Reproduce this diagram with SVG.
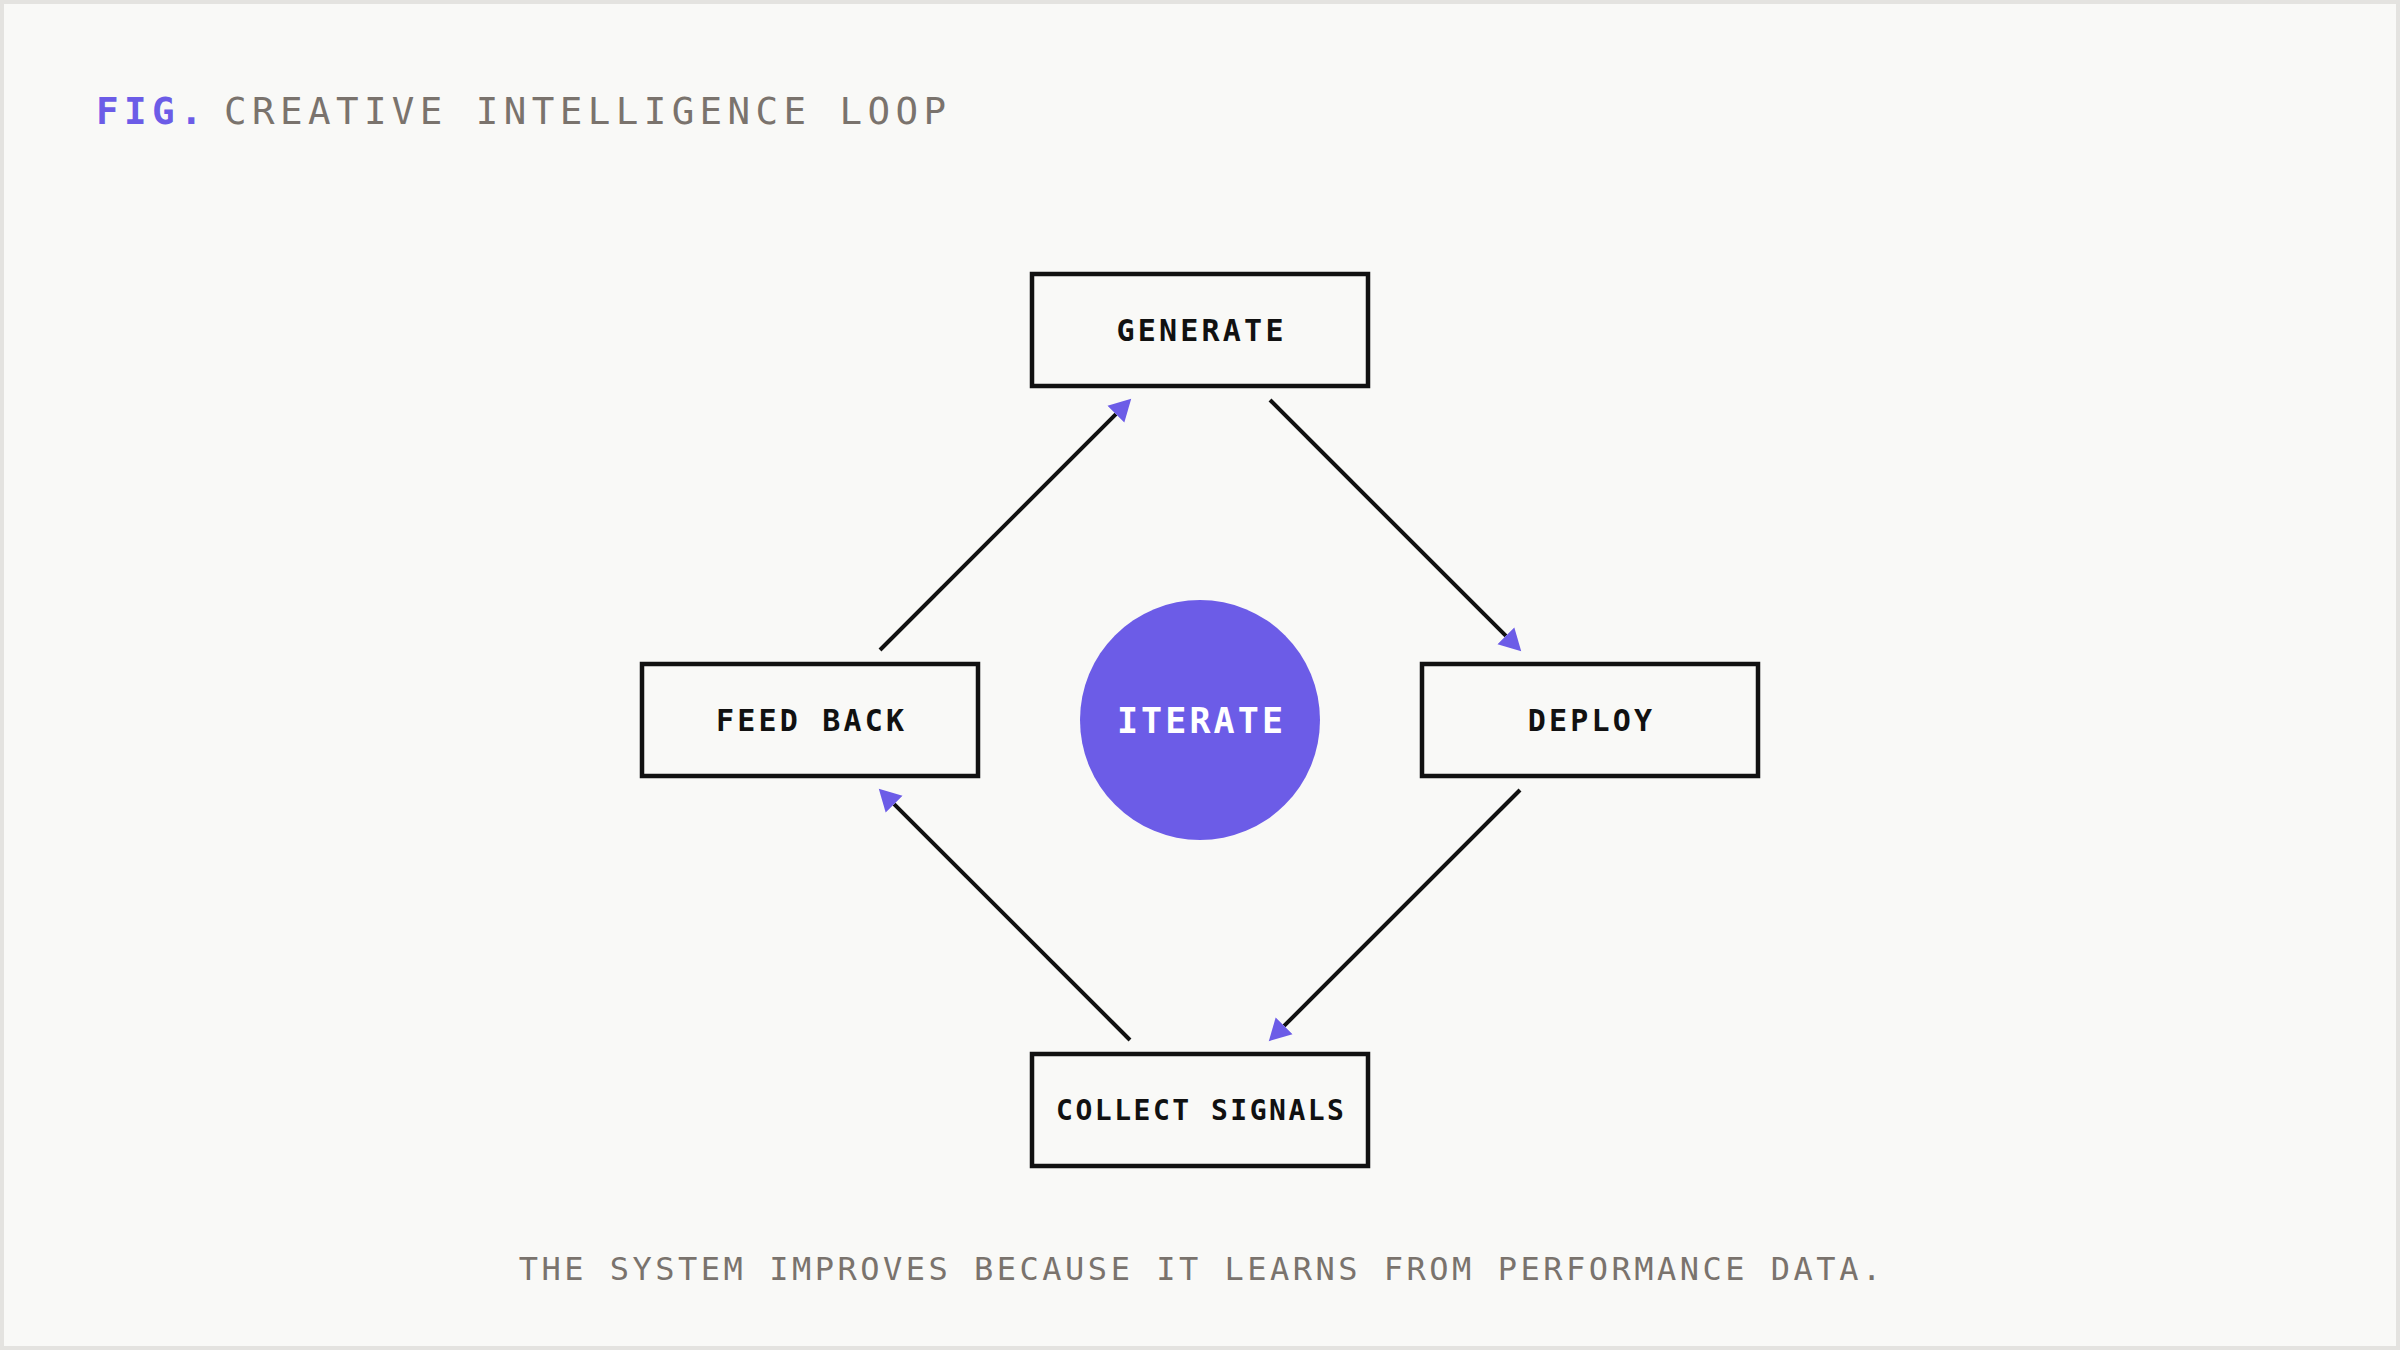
<svg xmlns="http://www.w3.org/2000/svg" width="2400" height="1350" viewBox="0 0 2400 1350">
<style>
.box{fill:none;stroke:#111;stroke-width:4.5}
.lbl{font-family:"DejaVu Sans Mono","Liberation Mono",monospace;font-weight:bold;fill:#111;text-anchor:middle}
.conn{stroke:#111;stroke-width:4;fill:none}
.muted{font-family:"DejaVu Sans Mono","Liberation Mono",monospace;fill:#7a736d}
</style>
<defs>
<marker id="ah" markerUnits="userSpaceOnUse" markerWidth="24" markerHeight="26" viewBox="0 -12 22 24" refX="0" refY="0" orient="auto">
<path d="M0,-11 L20,0 L0,11 Z" fill="#6c5ce7"/>
</marker>
</defs>
<rect x="2" y="2" width="2396" height="1346" fill="#f9f9f7" stroke="#e4e3e0" stroke-width="4"/>
<g id="title">
<text x="96" y="124" class="muted" style="fill:#6c5ce7;font-weight:bold" font-size="37.5" letter-spacing="5.4">FIG.</text>
<text x="224" y="124" class="muted" font-size="37.5" letter-spacing="5.4">CREATIVE INTELLIGENCE LOOP</text>
</g>
<g id="connectors">
<line class="conn" x1="1270" y1="400" x2="1505.9" y2="635.9" marker-end="url(#ah)"/>
<line class="conn" x1="1520" y1="790" x2="1284.1" y2="1025.9" marker-end="url(#ah)"/>
<line class="conn" x1="1130" y1="1040" x2="894.1" y2="804.1" marker-end="url(#ah)"/>
<line class="conn" x1="880" y1="650" x2="1115.9" y2="414.1" marker-end="url(#ah)"/>
</g>
<g id="generate">
<rect class="box" x="1032" y="274" width="336" height="112"/>
<text class="lbl" x="1201.6" y="341" font-size="30" letter-spacing="3.2">GENERATE</text>
</g>
<g id="deploy">
<rect class="box" x="1422" y="664" width="336" height="112"/>
<text class="lbl" x="1591.6" y="731" font-size="30" letter-spacing="3.2">DEPLOY</text>
</g>
<g id="collect-signals">
<rect class="box" x="1032" y="1054" width="336" height="112"/>
<text class="lbl" x="1201.3" y="1120" font-size="28" letter-spacing="2.5">COLLECT SIGNALS</text>
</g>
<g id="feed-back">
<rect class="box" x="642" y="664" width="336" height="112"/>
<text class="lbl" x="811.6" y="731" font-size="30" letter-spacing="3.2">FEED BACK</text>
</g>
<g id="iterate">
<circle cx="1200" cy="720" r="120" fill="#6c5ce7"/>
<text class="lbl" x="1201.5" y="733" font-size="35" letter-spacing="3.1" style="fill:#ffffff">ITERATE</text>
</g>
<g id="footer">
<text x="1201.7" y="1280" class="muted" font-size="32" letter-spacing="3.5" text-anchor="middle">THE SYSTEM IMPROVES BECAUSE IT LEARNS FROM PERFORMANCE DATA.</text>
</g>
</svg>
